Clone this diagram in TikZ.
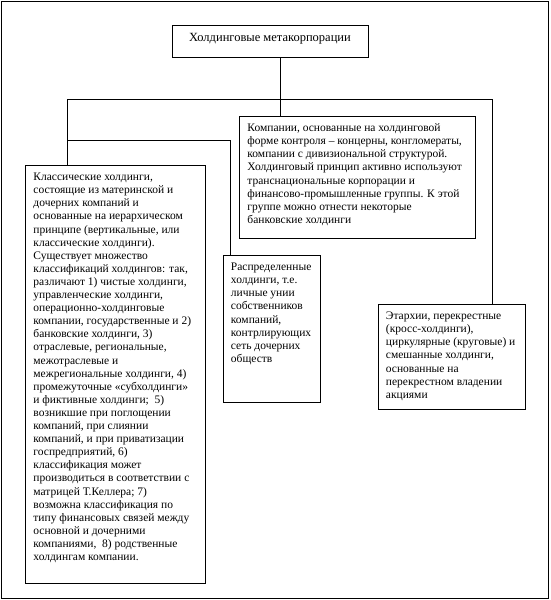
\documentclass[tikz,border=0pt]{standalone}
\usepackage{fontspec}
\setmainfont{Liberation Serif}

% text lines kept at the top of a box of fixed size
\newcommand{\boxlines}[3]{\parbox[t][#1][t]{#2}{\begin{tabular}[t]{@{}l@{}}#3\end{tabular}}}

\begin{document}
\begin{tikzpicture}[
  x=1pt, y=-1pt,
  line width=0.9pt,
  font=\fontsize{11.5}{13.1}\selectfont,
  box/.style={draw, anchor=north west, inner xsep=8pt, inner ysep=6pt},
  titlebox/.style={draw, minimum width=196pt, minimum height=32pt, inner sep=0pt,
    text height=8pt, text depth=8pt, font=\fontsize{12.5}{14}\selectfont},
  link/.style={line cap=rect}
]
\useasboundingbox (0,0) rectangle (550,600);
\draw[line width=0.8pt] (1,1) rectangle (548,598);

\node[titlebox] (title) at (270,41) {Холдинговые метакорпорации};

\node[box] (firms) at (239,116) {\boxlines{110pt}{220pt}{%
  Компании, основанные на холдинговой\\
  форме контроля – концерны, конгломераты,\\
  компании с дивизиональной структурой.\\
  Холдинговый принцип активно используют\\
  транснациональные корпорации и\\
  финансово-промышленные группы. К этой\\
  группе можно отнести некоторые\\
  банковские холдинги}};

\node[box] (classic) at (25,165) {\boxlines{406pt}{164pt}{%
  Классические холдинги,\\
  состоящие из материнской и\\
  дочерних компаний и\\
  основанные на иерархическом\\
  принципе (вертикальные, или\\
  классические холдинги).\\
  Существует множество\\
  классификаций холдингов: так,\\
  различают 1) чистые холдинги,\\
  управленческие холдинги,\\
  операционно-холдинговые\\
  компании, государственные и 2)\\
  банковские холдинги, 3)\\
  отраслевые, региональные,\\
  межотраслевые и\\
  межрегиональные холдинги, 4)\\
  промежуточные «субхолдинги»\\
  и фиктивные холдинги;~ 5)\\
  возникшие при поглощении\\
  компаний, при слиянии\\
  компаний, и при приватизации\\
  госпредприятий, 6)\\
  классификация может\\
  производиться в соответствии с\\
  матрицей Т.Келлера; 7)\\
  возможна классификация по\\
  типу финансовых связей между\\
  основной и дочерними\\
  компаниями,~ 8) родственные\\
  холдингам компании.}};

\node[box] (distrib) at (222.5,255) {\boxlines{135pt}{81pt}{%
  Распределенные\\
  холдинги, т.е.\\
  личные унии\\
  собственников\\
  компаний,\\
  контрлирующих\\
  сеть дочерних\\
  обществ}};

\node[box] (cross) at (377.5,304) {\boxlines{93pt}{131pt}{%
  Этархии, перекрестные\\
  (кросс-холдинги),\\
  циркулярные (круговые) и\\
  смешанные холдинги,\\
  основанные на\\
  перекрестном владении\\
  акциями}};

% connectors
\coordinate (bus) at (280,99);
\coordinate (busL) at (67,99);
\coordinate (busR) at (492,99);
\coordinate (fork) at (67,140);

\draw[link] (title.south -| bus) -- (bus);
\draw[link] (busL) -- (busR);
\draw (bus) -- (bus |- firms.north);
\draw (busL) -- (busL |- classic.north);
\draw (busR) -- (busR |- cross.north);
\draw (fork) -| ([xshift=8pt]distrib.north west);
\end{tikzpicture}
\end{document}
